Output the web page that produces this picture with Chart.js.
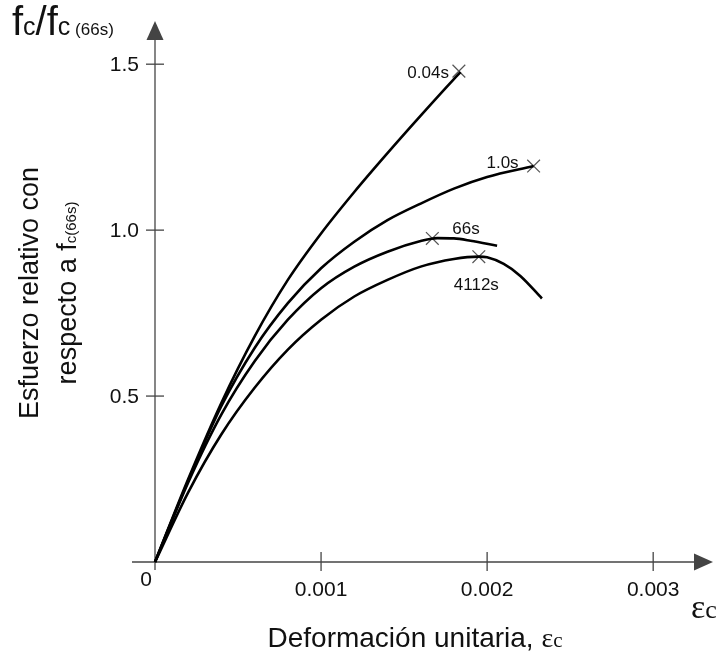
<!DOCTYPE html>
<html>
<head>
<meta charset="utf-8">
<script src="https://cdn.jsdelivr.net/npm/chart.js@4.4.1/dist/chart.umd.min.js"></script>
<style>
  html, body { margin:0; padding:0; background:#fff; }
</style>
</head>
<body>
<canvas id="chart" width="724" height="659"></canvas>
<script>
/* curve data: strain (x) vs relative stress (y) */
const CURVE_LABELS = ['0.04s', '1.0s', '66s', '4112s'];

const EPS_004  = [0, 0.0002, 0.0004, 0.0006, 0.0008, 0.0010, 0.0012, 0.0014, 0.0016, 0.0018, 0.00184];
const FC_004   = [0, 0.25,   0.48,   0.68,   0.85,   0.99,   1.115,  1.232,  1.345,  1.455,  1.476];

const EPS_1S   = [0, 0.0002, 0.0004, 0.0006, 0.0008, 0.0010, 0.0012, 0.0014, 0.0016, 0.0018, 0.0020, 0.00228];
const FC_1S    = [0, 0.245,  0.47,   0.645,  0.78,   0.885,  0.965,  1.03,   1.08,   1.125,  1.16,   1.193];

const EPS_66S  = [0, 0.0002, 0.0004, 0.0006, 0.0008, 0.0010, 0.0012, 0.0014, 0.0016, 0.0017, 0.0018, 0.0019, 0.00206];
const FC_66S   = [0, 0.24,   0.445,  0.605,  0.73,   0.825,  0.89,   0.935,  0.967,  0.976,  0.975,  0.968,  0.953];

const EPS_4112 = [0, 0.0002, 0.0004, 0.0006, 0.0008, 0.0010, 0.0012, 0.0014, 0.0016, 0.0018, 0.00195, 0.0020, 0.0021, 0.0022, 0.00233];
const FC_4112  = [0, 0.21,   0.385,  0.525,  0.64,   0.73,   0.80,   0.85,   0.89,   0.913,  0.92,    0.918,  0.898,  0.862,  0.794];

// the "x" marks on each curve
const MARK_EPS = [0.00183, 0.00228, 0.00167, 0.00195];
const MARK_FC  = [1.479,   1.193,   0.975,   0.92];

const X_TICKS = [0.001, 0.002, 0.003];
const X_TICK_LABELS = ['0.001', '0.002', '0.003'];
const Y_TICKS = [0.5, 1.0, 1.5];
const Y_TICK_LABELS = ['0.5', '1.0', '1.5'];

const SANS  = '"Liberation Sans", Arial, sans-serif';
const SERIF = '"Liberation Serif", "Times New Roman", serif';
const AXIS_COL = '#444';
const TEXT_COL = '#111';

function pts(xs, ys) { return xs.map((x, i) => ({ x: x, y: ys[i] })); }

function curve(xs, ys) {
  return {
    type: 'line', data: pts(xs, ys),
    borderColor: '#000', borderWidth: 2.6, pointRadius: 0,
    cubicInterpolationMode: 'monotone', fill: false, clip: false
  };
}

// draw several font runs one after another on a baseline
function runs(ctx, list, x, y) {
  let cx = x;
  list.forEach(r => {
    ctx.font = r.f;
    ctx.fillText(r.t, cx, y);
    cx += ctx.measureText(r.t).width;
  });
}
function runsWidth(ctx, list) {
  let w = 0;
  list.forEach(r => { ctx.font = r.f; w += ctx.measureText(r.t).width; });
  return w;
}

const axesPlugin = {
  id: 'axesPlugin',
  beforeDatasetsDraw(chart) {
    const ctx = chart.ctx, sx = chart.scales.x, sy = chart.scales.y;
    const x0 = sx.getPixelForValue(0), y0 = sy.getPixelForValue(0);
    ctx.save();
    ctx.strokeStyle = AXIS_COL; ctx.fillStyle = AXIS_COL; ctx.lineWidth = 1.3;
    // y axis + arrow
    ctx.beginPath(); ctx.moveTo(x0, y0 + 8); ctx.lineTo(x0, 38); ctx.stroke();
    ctx.beginPath(); ctx.moveTo(x0, 21); ctx.lineTo(x0 - 8.5, 40); ctx.lineTo(x0 + 8.5, 40); ctx.closePath(); ctx.fill();
    // x axis + arrow
    ctx.beginPath(); ctx.moveTo(x0 - 23, y0); ctx.lineTo(696, y0); ctx.stroke();
    ctx.beginPath(); ctx.moveTo(713, y0); ctx.lineTo(694, y0 - 8.5); ctx.lineTo(694, y0 + 8.5); ctx.closePath(); ctx.fill();
    // ticks
    X_TICKS.forEach(v => {
      const px = sx.getPixelForValue(v);
      ctx.beginPath(); ctx.moveTo(px, y0 - 10); ctx.lineTo(px, y0 + 9); ctx.stroke();
    });
    Y_TICKS.forEach(v => {
      const py = sy.getPixelForValue(v);
      ctx.beginPath(); ctx.moveTo(x0 - 9, py); ctx.lineTo(x0 + 9, py); ctx.stroke();
    });
    // tick labels
    ctx.fillStyle = TEXT_COL;
    ctx.font = '21px ' + SANS;
    ctx.textAlign = 'center'; ctx.textBaseline = 'alphabetic';
    X_TICKS.forEach((v, i) => ctx.fillText(X_TICK_LABELS[i], sx.getPixelForValue(v), y0 + 34));
    ctx.textAlign = 'right';
    ctx.fillText('0', x0 - 3, y0 + 24);
    ctx.textBaseline = 'middle';
    Y_TICKS.forEach((v, i) => ctx.fillText(Y_TICK_LABELS[i], x0 - 16, sy.getPixelForValue(v) + 1));
    ctx.restore();
  },
  afterDraw(chart) {
    const ctx = chart.ctx, sx = chart.scales.x, sy = chart.scales.y;
    ctx.save();
    ctx.fillStyle = TEXT_COL;
    ctx.textBaseline = 'alphabetic'; ctx.textAlign = 'left';

    // curve labels next to the marks
    const off = [[-10, 7, 'right'], [-15, 2, 'right'], [20, -4, 'left'], [-25, 33, 'left']];
    ctx.font = '17px ' + SANS;
    CURVE_LABELS.forEach((t, i) => {
      ctx.textAlign = off[i][2];
      ctx.fillText(t, sx.getPixelForValue(MARK_EPS[i]) + off[i][0], sy.getPixelForValue(MARK_FC[i]) + off[i][1]);
    });
    ctx.textAlign = 'left';

    // top-left symbol  fc/fc(66s)
    runs(ctx, [
      { t: 'f', f: '40px ' + SANS }, { t: 'c', f: '25px ' + SANS },
      { t: '/f', f: '40px ' + SANS }, { t: 'c', f: '25px ' + SANS },
      { t: ' (66s)', f: '17px ' + SANS }
    ], 12, 35);

    // epsilon c at the x arrow
    runs(ctx, [{ t: 'ε', f: '34px ' + SERIF }, { t: 'c', f: '26px ' + SERIF }], 691, 618);

    // x title
    const xt = [{ t: 'Deformación unitaria, ', f: '28px ' + SANS }, { t: 'ε', f: '28px ' + SERIF }, { t: 'c', f: '21px ' + SERIF }];
    runs(ctx, xt, 415 - runsWidth(ctx, xt) / 2, 647);

    // y title, two rotated lines
    const l1 = [{ t: 'Esfuerzo relativo con', f: '27px ' + SANS }];
    const l2 = [{ t: 'respecto a f', f: '27px ' + SANS }, { t: 'c(66s)', f: '15px ' + SANS }];
    [[l1, 38], [l2, 76]].forEach(([ln, bx]) => {
      ctx.save();
      ctx.translate(bx, 293);
      ctx.rotate(-Math.PI / 2);
      runs(ctx, ln, -runsWidth(ctx, ln) / 2, 0);
      ctx.restore();
    });
    ctx.restore();
  }
};

const ctx = document.getElementById('chart').getContext('2d');
new Chart(ctx, {
  type: 'line',
  data: {
    datasets: [
      curve(EPS_004, FC_004),
      curve(EPS_1S, FC_1S),
      curve(EPS_66S, FC_66S),
      curve(EPS_4112, FC_4112),
      {
        type: 'scatter', data: pts(MARK_EPS, MARK_FC),
        pointStyle: 'crossRot', pointRadius: 9, pointBorderColor: '#555', pointBorderWidth: 1.2,
        borderColor: '#555', showLine: false, clip: false
      }
    ]
  },
  options: {
    responsive: false, devicePixelRatio: 1, animation: false,
    layout: { padding: { left: 155, right: 21, top: 31, bottom: 97 } },
    plugins: { legend: { display: false }, tooltip: { enabled: false } },
    scales: {
      x: { type: 'linear', min: 0, max: 0.0033, display: false },
      y: { type: 'linear', min: 0, max: 1.6, display: false }
    }
  },
  plugins: [axesPlugin]
});
</script>
</body>
</html>
